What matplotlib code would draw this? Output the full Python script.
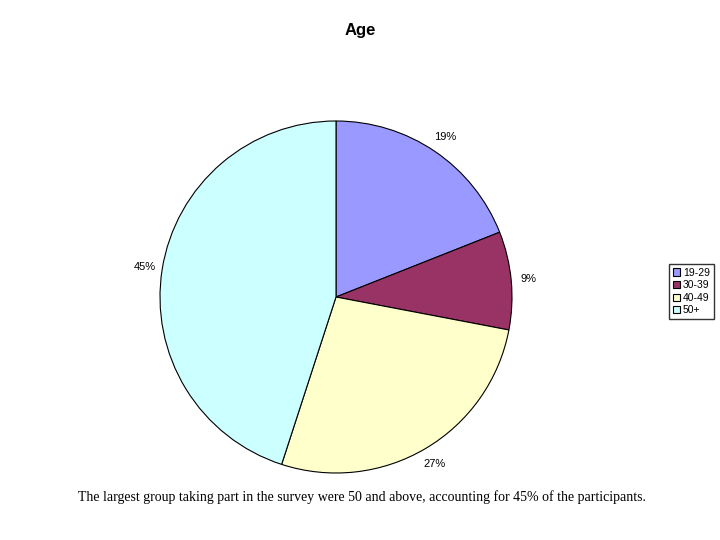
import matplotlib
matplotlib.use('Agg')
import matplotlib.pyplot as plt

plt.rcParams['font.family'] = ['Liberation Sans', 'DejaVu Sans']

groups = ['19-29', '30-39', '40-49', '50+']
shares = [19, 9, 27, 45]
colors = ['#9999FF', '#993366', '#FFFFCC', '#CCFFFF']

fig = plt.figure(figsize=(7.2, 5.4), dpi=100)

# pie placed to match the original: centre (336,297), radius 176 px
ax = fig.add_axes([(336 - 176) / 720, (540 - 297 - 176) / 540, 352 / 720, 352 / 540])
wedges, texts, pcts = ax.pie(shares, colors=colors, startangle=90, counterclock=False,
                             autopct='%d%%', pctdistance=1.1,
                             wedgeprops={'edgecolor': 'black', 'linewidth': 0.8})
for t in pcts:
    t.set_fontsize(8)
ax.set_xlim(-1, 1)
ax.set_ylim(-1, 1)
ax.set_aspect('equal')

fig.text(0.5, 1 - 31 / 540, 'Age', ha='center', va='center', fontsize=12, fontweight='bold')

fig.legend(wedges, groups, loc='upper left', bbox_to_anchor=(669 / 720, 1 - 264 / 540),
           fontsize=7.5, frameon=True, fancybox=False, edgecolor='black',
           handlelength=0.7, handleheight=0.7, handletextpad=0.3, borderpad=0.35,
           labelspacing=0.25, borderaxespad=0)

fig.text(362 / 720, 1 - 497 / 540,
         'The largest group taking part in the survey were 50 and above, accounting for 45% of the participants.',
         ha='center', va='center', fontsize=10, family='Liberation Serif')

fig.savefig('out.png', dpi=100)
